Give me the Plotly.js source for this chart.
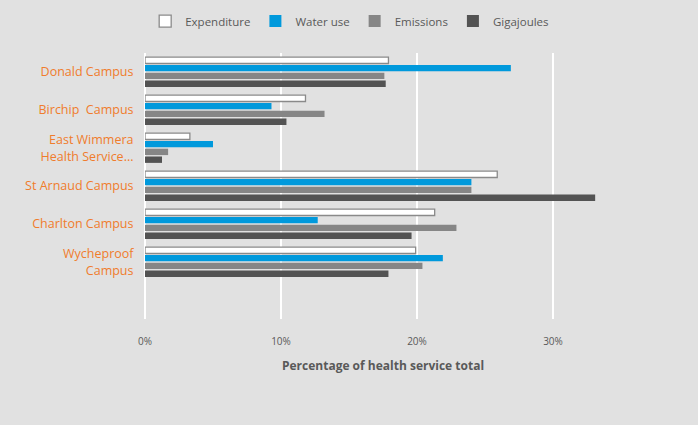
<!DOCTYPE html>
<html>
<head>
<meta charset="utf-8">
<script src="https://cdn.plot.ly/plotly-3.0.1.min.js"></script>
<style>html,body{margin:0;padding:0;background:#e1e1e1;}#chart{width:698px;height:425px;}</style>
</head>
<body>
<div id="chart"></div>
<script>
const categories = ["Donald Campus", "Birchip  Campus", "East Wimmera<br>Health Service...", "St Arnaud Campus", "Charlton Campus", "Wycheproof<br>Campus"];
const expenditure = [0.179, 0.118, 0.033, 0.259, 0.213, 0.199];
const waterUse = [0.269, 0.093, 0.050, 0.240, 0.127, 0.219];
const emissions = [0.176, 0.132, 0.017, 0.240, 0.229, 0.204];
const gigajoules = [0.177, 0.104, 0.0125, 0.331, 0.196, 0.179];
const tickVals = [0, 0.1, 0.2, 0.3];
const tickText = ["0%", "10%", "20%", "30%"];

const traces = [
  {name: "Expenditure", x: expenditure, y: categories, type: "bar", orientation: "h",
   marker: {color: "#ffffff", line: {color: "#8a8a8a", width: 1.3}}},
  {name: "Water use", x: waterUse, y: categories, type: "bar", orientation: "h",
   marker: {color: "#0099dc"}},
  {name: "Emissions", x: emissions, y: categories, type: "bar", orientation: "h",
   marker: {color: "#868686"}},
  {name: "Gigajoules", x: gigajoules, y: categories, type: "bar", orientation: "h",
   marker: {color: "#535353"}}
];

const layout = {
  width: 698, height: 425,
  paper_bgcolor: "#e1e1e1", plot_bgcolor: "#e1e1e1",
  margin: {l: 145, r: 77, t: 53, b: 106, autoexpand: false},
  barmode: "group", bargap: 0.18, bargroupgap: 0.18,
  font: {family: "Open Sans, Liberation Sans, sans-serif", color: "#595959"},
  showlegend: true,
  legend: {orientation: "h", x: 0.43, xanchor: "center", y: 1.12, yanchor: "middle",
           font: {size: 11.5, color: "#595959"}, traceorder: "normal", itemwidth: 30, tracegroupgap: 0},
  xaxis: {range: [0, 0.35], tickvals: tickVals, ticktext: tickText, automargin: false,
          showgrid: true, gridcolor: "#ffffff", gridwidth: 2, zeroline: true, zerolinecolor: "#ffffff", zerolinewidth: 2,
          tickfont: {size: 10, color: "#595959"}, ticks: "outside", ticklen: 13, tickcolor: "rgba(0,0,0,0)",
          title: {text: "<b>Percentage of health service total</b>", font: {size: 12, color: "#595959"}, standoff: 14}},
  yaxis: {type: "category", categoryorder: "array", categoryarray: categories, automargin: false,
          autorange: false, range: [6.5, -0.5], showgrid: false, zeroline: false,
          tickfont: {size: 12.5, color: "#f07c2c"}, ticks: "outside", ticklen: 8, tickcolor: "rgba(0,0,0,0)"}
};

Plotly.newPlot("chart", traces, layout, {displayModeBar: false, staticPlot: true});
</script>
</body>
</html>
